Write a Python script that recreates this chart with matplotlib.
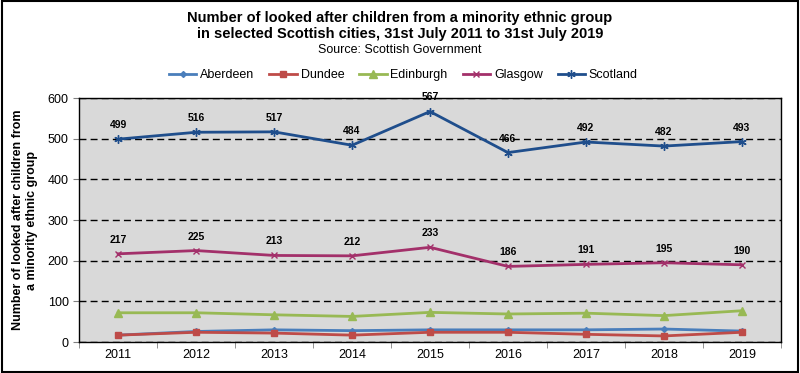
import matplotlib
matplotlib.use("Agg")
import matplotlib.pyplot as plt
from matplotlib.patches import Rectangle

plt.rcParams['font.family'] = ['Liberation Sans', 'DejaVu Sans']

# Datos
years = ["2011", "2012", "2013", "2014", "2015", "2016", "2017", "2018", "2019"]
aberdeen = [17, 26, 30, 28, 30, 30, 30, 32, 27]
dundee = [17, 24, 22, 17, 24, 24, 19, 15, 24]
edinburgh = [72, 72, 67, 63, 73, 69, 71, 65, 77]
glasgow = [217, 225, 213, 212, 233, 186, 191, 195, 190]
scotland = [499, 516, 517, 484, 567, 466, 492, 482, 493]
y_ticks = [0, 100, 200, 300, 400, 500, 600]

fig = plt.figure(figsize=(8, 3.73), dpi=100)
ax = fig.add_axes([0.099, 0.083, 0.877, 0.654])
ax.set_facecolor("#d9d9d9")

x = list(range(len(years)))

series = [
    ("Aberdeen", aberdeen, "#4a7ebb", "D", 3),
    ("Dundee", dundee, "#be4b48", "s", 5),
    ("Edinburgh", edinburgh, "#98b954", "^", 6),
    ("Glasgow", glasgow, "#a3306a", "x", 5),
    ("Scotland", scotland, "#1f4e8c", (6, 2, 0), 6),
]
for nombre, vals, color, marker, ms in series:
    ax.plot(x, vals, color=color, lw=2, marker=marker, markersize=ms,
            markeredgewidth=1, label=nombre, zorder=3)

# Etiquetas de datos para Glasgow y Scotland
for vals in (glasgow, scotland):
    for xi, v in zip(x, vals):
        ax.annotate(str(v), (xi, v), xytext=(0, 6.5), textcoords="offset points",
                    ha="center", va="bottom", fontsize=7.5, fontweight="bold",
                    zorder=4)

ax.set_xlim(-0.5, 8.5)
ax.set_ylim(0, 600)
ax.set_yticks(y_ticks)
ax.set_xticks(x)
ax.set_xticklabels(years, fontsize=9)
ax.tick_params(axis="x", which="major", length=0, pad=5)
ax.set_xticks([i - 0.5 for i in range(len(years) + 1)], minor=True)
ax.tick_params(axis="x", which="minor", length=4, direction="out", color="#808080")
ax.tick_params(axis="y", labelsize=9, length=4, direction="out", color="#808080")
ax.yaxis.grid(True, color="black", linestyle=(0, (5, 3)), lw=1)
ax.set_axisbelow(True)
for s in ax.spines.values():
    s.set_color("black")
    s.set_linewidth(1)

ax.set_ylabel("Number of looked after children from\na minority ethnic group",
              fontsize=9, fontweight="bold", labelpad=7)

fig.text(0.5, 0.93, "Number of looked after children from a minority ethnic group\n"
         "in selected Scottish cities, 31st July 2011 to 31st July 2019",
         ha="center", va="center", fontsize=10.5, fontweight="bold", linespacing=1.15)
fig.text(0.5, 0.866, "Source: Scottish Government", ha="center", va="center", fontsize=9)

ax.legend(loc="center", bbox_to_anchor=(0.462, 1.094), ncol=5, frameon=False,
          fontsize=9, handlelength=2.2, handletextpad=0.3, columnspacing=1.2)

fig.patches.append(Rectangle((0.002, 0.003), 0.995, 0.994, transform=fig.transFigure,
                             fill=False, edgecolor="black", lw=1.5))

fig.savefig("out.png", dpi=100)
